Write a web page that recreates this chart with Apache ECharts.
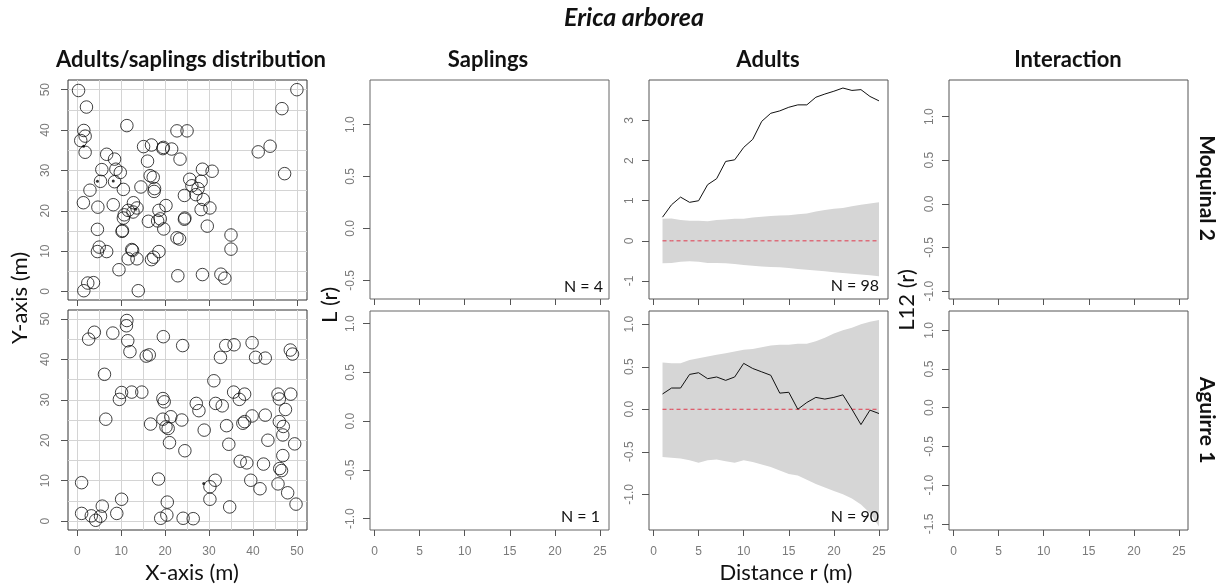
<!DOCTYPE html>
<html><head><meta charset="utf-8">
<script src="https://cdn.jsdelivr.net/npm/echarts@6/dist/echarts.min.js"></script>
<style>html,body{margin:0;padding:0;background:#fff}#c{width:1225px;height:587px}</style>
</head><body><div id="c"></div>
<script>
// ---------- DATA ----------
// Moquinal 2 – adult positions (m)
const moqAdultX = [0.3,2.1,1.5,0.8,1.8,1.8,11.3,22.7,25.0,15.1,16.9,19.6,21.5,23.4,16.0,6.7,8.5,8.8,9.8,5.6,5.3,8.5,2.9,10.5,1.4,4.7,8.2,10.5,11.6,12.8,13.6,10.7,10.3,4.6,14.5,16.6,17.3,17.6,17.5,16.2,18.6,18.9,19.7,20.2,18.6,16.9,17.4,22.7,23.3,24.4,24.5,24.4,25.6,26.1,27.0,27.5,28.2,28.5,30.7,28.7,28.2,30.2,29.6,35.0,35.0,32.7,33.6,28.5,22.9,13.9,1.5,2.4,3.7,9.5,11.6,12.4,13.6,12.6,5.0,4.6,6.7,41.2,43.9,46.6,47.2,50.0,12.7,10.2,19.5,18.3];
const moqAdultY = [49.8,45.7,39.9,37.4,38.5,34.5,41.1,39.8,39.8,35.9,36.3,35.7,35.3,32.8,32.3,34.0,32.8,30.3,29.5,30.2,27.3,27.2,25.1,25.3,22.0,20.9,21.5,18.2,20.1,22.0,20.7,19.0,15.1,15.4,25.9,28.7,28.3,25.5,24.8,17.4,20.1,18.0,15.5,21.3,9.9,7.9,8.5,13.3,13.0,17.9,18.2,23.8,27.8,26.2,24.0,25.5,27.3,30.3,29.8,22.8,20.3,20.7,16.2,14.0,10.5,4.3,3.3,4.2,3.9,0.2,0.2,2.1,2.2,5.4,8.1,10.4,8.1,10.2,11.0,9.9,9.9,34.6,36.0,45.3,29.2,50.0,19.7,14.9,35.4,17.5];
// Moquinal 2 – sapling positions (m)
const moqSapX = [4.6,8.2,13.3,1.45];
const moqSapY = [27.3,27.4,20.4,36.0];
// Aguirre 1 – adult positions (m)
const agAdultX = [11.3,11.2,3.9,2.6,8.1,11.5,12.0,15.7,16.4,19.6,24.0,6.2,10.1,12.4,14.7,9.6,6.5,16.7,19.5,19.8,19.5,20.2,20.7,21.3,21.0,23.8,24.5,27.1,27.7,28.9,31.1,31.5,33.0,32.6,33.8,35.7,34.0,34.5,35.6,36.9,38.1,37.7,38.1,39.8,39.8,40.6,42.8,42.8,43.4,37.1,38.6,39.5,41.6,42.4,45.7,46.0,48.6,47.4,46.0,46.9,46.8,46.8,49.5,46.1,46.5,45.7,47.9,49.8,48.5,49.0,34.7,30.2,30.2,31.4,18.5,20.5,20.4,19.0,24.1,26.4,10.1,9.0,5.7,5.3,4.2,3.2,1.0,1.0];
const agAdultY = [49.6,48.3,46.7,45.0,46.5,44.6,41.9,40.8,41.1,45.6,43.4,36.3,31.8,31.9,31.9,30.1,25.2,24.0,30.3,29.5,25.2,23.3,22.9,25.8,19.4,25.0,17.4,29.1,27.3,22.5,34.7,29.1,28.5,40.5,43.4,43.6,23.6,19.0,31.9,30.1,31.4,24.2,24.6,26.0,44.1,40.5,40.3,26.2,20.0,14.8,14.4,10.1,8.0,14.1,31.4,30.2,31.4,27.6,24.6,23.4,21.3,16.2,19.1,13.0,12.5,9.2,7.0,4.2,42.3,41.3,3.5,5.4,8.5,10.1,10.4,4.7,1.5,0.7,0.7,0.6,5.4,1.9,3.7,1.2,0.2,1.3,1.9,9.5];
// Aguirre 1 – sapling positions (m)
const agSapX = [28.8];
const agSapY = [9.3];

// Distance r (m) and L(r) functions
const distR = [1,2,3,4,5,6,7,8,9,10,11,12,13,14,15,16,17,18,19,20,21,22,23,24,25];
const moqAdultL = [0.59,0.90,1.09,0.96,1.00,1.40,1.55,1.98,2.02,2.33,2.53,2.98,3.18,3.24,3.33,3.39,3.39,3.58,3.66,3.73,3.81,3.75,3.77,3.60,3.49];
const moqEnvHi = [0.55,0.56,0.52,0.50,0.50,0.49,0.52,0.53,0.55,0.55,0.58,0.60,0.62,0.63,0.64,0.66,0.68,0.73,0.77,0.80,0.82,0.86,0.90,0.93,0.96];
const moqEnvLo = [-0.56,-0.55,-0.52,-0.51,-0.52,-0.55,-0.55,-0.56,-0.58,-0.60,-0.62,-0.64,-0.65,-0.66,-0.68,-0.70,-0.72,-0.74,-0.76,-0.78,-0.80,-0.82,-0.84,-0.86,-0.88];
const agAdultL = [0.18,0.25,0.25,0.41,0.43,0.36,0.38,0.34,0.38,0.54,0.48,0.44,0.40,0.19,0.20,0.00,0.08,0.14,0.12,0.14,0.17,0.00,-0.18,-0.01,-0.05];
const agEnvHi = [0.55,0.54,0.54,0.58,0.60,0.62,0.64,0.66,0.68,0.70,0.71,0.73,0.75,0.76,0.76,0.77,0.77,0.80,0.84,0.89,0.93,0.96,1.00,1.03,1.05];
const agEnvLo = [-0.56,-0.57,-0.58,-0.60,-0.63,-0.60,-0.59,-0.61,-0.63,-0.60,-0.62,-0.65,-0.68,-0.72,-0.76,-0.78,-0.83,-0.88,-0.92,-0.96,-1.00,-1.05,-1.12,-1.22,-1.38];

// Tick values
const scatterTicks = [0,10,20,30,40,50];
const scatterGridLines = [0,5,10,15,20,25,30,35,40,45,50];
const distTicks = [0,5,10,15,20,25];
const sapTopTicks = [-0.5,0,0.5,1];
const sapBotTicks = [-1,-0.5,0,0.5,1];
const adTopTicks = [-1,0,1,2,3];
const adBotTicks = [-1,-0.5,0,0.5,1];
const intTopTicks = [-1,-0.5,0,0.5,1];
const intBotTicks = [-1.5,-1,-0.5,0,0.5,1];

// ---------- CHART ----------
const TICK_FONT = 'Liberation Sans, Arial, sans-serif';
const HEAD_FONT = 'Lato, "Open Sans", sans-serif';
const tickColor = '#555';
const labColor = '#7a7a7a';

const grids = [
  {left:68, top:80, width:239, height:220, borderColor:'#333'},
  {left:370, top:80, width:239, height:219, borderColor:'#666'},
  {left:649, top:80, width:239, height:219, borderColor:'#555'},
  {left:949, top:80, width:239, height:219, borderColor:'#555'},
  {left:68, top:310, width:239, height:220, borderColor:'#333'},
  {left:370, top:311, width:239, height:219, borderColor:'#666'},
  {left:649, top:311, width:239, height:219, borderColor:'#555'},
  {left:949, top:311, width:239, height:219, borderColor:'#555'}
].map(g => Object.assign({show:true, borderWidth:1, backgroundColor:'#fff'}, g));

function xAx(gi, min, max, ticks, showLabels, margin) {
  return {type:'value', gridIndex:gi, min:min, max:max, position:'bottom',
    axisLine:{show:false, onZero:false},
    axisTick:{show:true, length:6, customValues:ticks, lineStyle:{color:tickColor}},
    axisLabel:{show:showLabels, customValues:ticks, margin:margin, fontSize:12, color:labColor, fontFamily:TICK_FONT},
    splitLine:{show:false}};
}
function yAx(gi, min, max, ticks, fmt, margin) {
  return {type:'value', gridIndex:gi, min:min, max:max, position:'left',
    axisLine:{show:false, onZero:false},
    axisTick:{show:true, length:7, customValues:ticks, lineStyle:{color:tickColor}},
    axisLabel:{show:true, customValues:ticks, rotate:90, margin:margin, fontSize:12, color:labColor, fontFamily:TICK_FONT, formatter:fmt},
    splitLine:{show:false}};
}
function gridAx(gi, min, max, pos) {
  return {type:'value', gridIndex:gi, min:min, max:max, position:pos,
    axisLine:{show:false, onZero:false}, axisTick:{show:false, customValues:scatterGridLines},
    axisLabel:{show:false}, splitLine:{show:true, lineStyle:{color:'#d4d4d4', width:1}}};
}
const f1 = v => v.toFixed(1);
const f0 = v => String(v);

const xAxes = [
  xAx(0,-2.1,52.3,scatterTicks,false,16),
  xAx(1,-0.5,26,distTicks,false,16),
  xAx(2,-0.5,26,distTicks,false,16),
  xAx(3,-0.5,26,distTicks,false,16),
  xAx(4,-2.1,52.3,scatterTicks,true,16),
  xAx(5,-0.5,26,distTicks,true,16),
  xAx(6,-0.5,26,distTicks,true,16),
  xAx(7,-0.5,26,distTicks,true,16),
  gridAx(0,-2.1,52.3,'top'),
  gridAx(4,-2.1,52.3,'top')
];
const yAxes = [
  yAx(0,-2.1,52.4,scatterTicks,f0,16),
  yAx(1,-0.68,1.43,sapTopTicks,f1,13),
  yAx(2,-1.45,4.01,adTopTicks,f0,13),
  yAx(3,-1.09,1.42,intTopTicks,f1,13),
  yAx(4,-2.2,52.2,scatterTicks,f0,16),
  yAx(5,-1.116,1.13,sapBotTicks,f1,13),
  yAx(6,-1.42,1.156,adBotTicks,f1,13),
  yAx(7,-1.58,1.25,intBotTicks,f1,13),
  gridAx(0,-2.1,52.4,'right'),
  gridAx(4,-2.2,52.2,'right')
];

const zip = (a,b) => a.map((v,i) => [v, b[i]]);

function pointSeries(ax, xs, ys, adult) {
  return {type:'scatter', xAxisIndex:ax, yAxisIndex:ax, data:zip(xs,ys), silent:true,
    symbol:'circle', symbolSize: adult ? 12.5 : 3,
    itemStyle: adult ? {color:'rgba(255,255,255,0)', borderColor:'#111', borderWidth:1}
                     : {color:'#000', borderWidth:0},
    z: adult ? 3 : 4};
}
function lSeries(ax, L, hi, lo) {
  const envData = distR.map((r,i) => [r, hi[i], lo[i]]);
  return [
    {type:'custom', xAxisIndex:ax, yAxisIndex:ax, data:envData, silent:true, z:1,
     encode:{x:0, y:[1,2]},
     renderItem:function(params, api){
       if (params.dataIndex !== 0) return null;
       const pts = [];
       for (let i = 0; i < envData.length; i++) pts.push(api.coord([envData[i][0], envData[i][1]]));
       for (let i = envData.length - 1; i >= 0; i--) pts.push(api.coord([envData[i][0], envData[i][2]]));
       return {type:'polygon', shape:{points:pts}, style:{fill:'#d6d6d6', stroke:null}};
     }},
    {type:'line', xAxisIndex:ax, yAxisIndex:ax, data:distR.map(r=>[r,0]), showSymbol:false, symbol:'none',
     lineStyle:{color:'#e0394c', width:1, type:[4,3]}, silent:true, z:2},
    {type:'line', xAxisIndex:ax, yAxisIndex:ax, data:zip(distR, L), showSymbol:false, symbol:'none',
     lineStyle:{color:'#111', width:1}, silent:true, z:3}
  ];
}

const series = [
  pointSeries(0, moqAdultX, moqAdultY, true),
  pointSeries(0, moqSapX, moqSapY, false),
  pointSeries(4, agAdultX, agAdultY, true),
  pointSeries(4, agSapX, agSapY, false),
  ...lSeries(2, moqAdultL, moqEnvHi, moqEnvLo),
  ...lSeries(6, agAdultL, agEnvHi, agEnvLo)
];

function txt(x, y, text, font, rot, align) {
  return {type:'text', x:x, y:y, rotation:rot || 0, silent:true, z:100,
    style:{text:text, font:font, fill:'#111', align:align || 'center', verticalAlign:'middle'}};
}
const R90 = Math.PI/2;
const graphics = [
  txt(634, 18, 'Erica arborea', 'italic bold 25px ' + HEAD_FONT),
  txt(191, 60, 'Adults/saplings distribution', 'bold 22px ' + HEAD_FONT),
  txt(488, 60, 'Saplings', 'bold 22px ' + HEAD_FONT),
  txt(768, 60, 'Adults', 'bold 22px ' + HEAD_FONT),
  txt(1068, 60, 'Interaction', 'bold 22px ' + HEAD_FONT),
  txt(1207, 188, 'Moquinal 2', 'bold 21px ' + HEAD_FONT, -R90),
  txt(1207, 420, 'Aguirre 1', 'bold 21px ' + HEAD_FONT, -R90),
  txt(20, 298, 'Y-axis (m)', '22px ' + HEAD_FONT, R90),
  txt(330, 305, 'L (r)', '22px ' + HEAD_FONT, R90),
  txt(907, 300, 'L12 (r)', '22px ' + HEAD_FONT, R90),
  txt(192, 573, 'X-axis (m)', '22px ' + HEAD_FONT),
  txt(786, 573, 'Distance r (m)', '22px ' + HEAD_FONT),
  txt(603, 287, 'N = 4', '16px ' + HEAD_FONT, 0, 'right'),
  txt(879, 286, 'N = 98', '16px ' + HEAD_FONT, 0, 'right'),
  txt(600, 517, 'N = 1', '16px ' + HEAD_FONT, 0, 'right'),
  txt(879, 517, 'N = 90', '16px ' + HEAD_FONT, 0, 'right')
];

const chart = echarts.init(document.getElementById('c'), null, {renderer:'canvas'});
chart.setOption({
  animation:false,
  backgroundColor:'#fff',
  grid:grids,
  xAxis:xAxes,
  yAxis:yAxes,
  series:series,
  graphic:{elements:graphics}
});
</script>
</body></html>
